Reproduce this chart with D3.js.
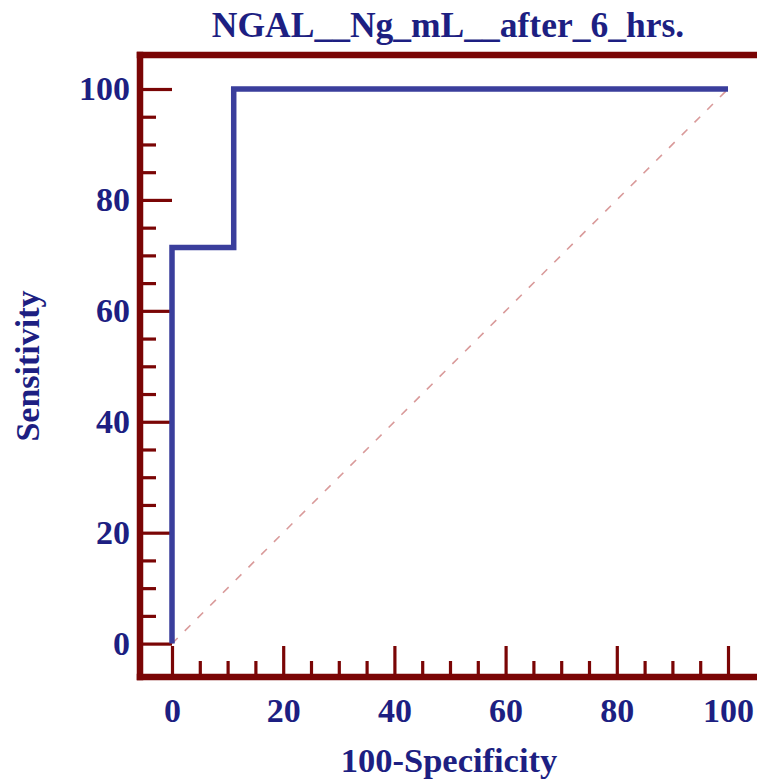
<!DOCTYPE html>
<html>
<head>
<meta charset="utf-8">
<script src="https://cdn.jsdelivr.net/npm/d3@7"></script>
<style>
  html, body { margin: 0; padding: 0; background: #fff; }
  svg { display: block; }
</style>
</head>
<body>
<svg id="chart" width="757" height="781"></svg>
<script>
// ROC curve data (100-Specificity vs Sensitivity)
const rocX = [0, 0, 11.1, 11.1, 100];
const rocY = [0, 71.4, 71.4, 100, 100];
const diagX = [0, 100];
const diagY = [0, 100];
const majorTicks = [0, 20, 40, 60, 80, 100];
const minorTicks = [5, 10, 15, 25, 30, 35, 45, 50, 55, 65, 70, 75, 85, 90, 95];

const titleText = 'NGAL__Ng_mL__after_6_hrs.';
const xLabel = '100-Specificity';
const yLabel = 'Sensitivity';

const axisColor = '#7a0505';
const textColor = '#1d1f82';
const curveColor = '#3a3e9c';
const diagColor = '#d99a9a';

const svg = d3.select('#chart');
const font = '"Liberation Serif", "Times New Roman", serif';

// frame edges
const frameLeft = 140, frameTop = 55, frameBottom = 677, frameRight = 770;

const x = d3.scaleLinear().domain([0, 100]).range([172, 728]);
const y = d3.scaleLinear().domain([0, 100]).range([643.6, 89]);

// title
svg.append('text')
    .attr('x', 448).attr('y', 37)
    .attr('text-anchor', 'middle')
    .attr('font-family', font)
    .attr('font-weight', 'bold')
    .attr('font-size', 35.5)
    .attr('fill', textColor)
    .text(titleText);

// minor ticks
const yMinor = svg.append('g')
    .attr('transform', `translate(${frameLeft},0)`)
    .call(d3.axisLeft(y).tickValues(minorTicks).tickSize(-16).tickFormat(''));
const xMinor = svg.append('g')
    .attr('transform', `translate(0,${frameBottom})`)
    .call(d3.axisBottom(x).tickValues(minorTicks).tickSize(-16).tickFormat(''));

// major ticks with labels
const yAxis = svg.append('g')
    .attr('transform', `translate(${frameLeft},0)`)
    .call(d3.axisLeft(y).tickValues(majorTicks).tickSize(-32).tickPadding(10));
const xAxis = svg.append('g')
    .attr('transform', `translate(0,${frameBottom})`)
    .call(d3.axisBottom(x).tickValues(majorTicks).tickSize(-31).tickPadding(21));

[yMinor, xMinor, yAxis, xAxis].forEach((g) => {
    g.select('.domain').remove();
    g.selectAll('.tick line').attr('stroke', axisColor).attr('stroke-width', 3.2);
    g.selectAll('.tick text')
        .attr('font-family', font)
        .attr('font-weight', 'bold')
        .attr('font-size', 34)
        .attr('fill', textColor);
});

// frame lines
const frame = [
    [[frameLeft, frameTop], [frameRight, frameTop]],
    [[frameLeft, frameTop], [frameLeft, frameBottom]],
    [[frameLeft, frameBottom], [frameRight, frameBottom]]
];
svg.append('g').selectAll('line').data(frame).enter().append('line')
    .attr('x1', (d) => d[0][0]).attr('y1', (d) => d[0][1])
    .attr('x2', (d) => d[1][0]).attr('y2', (d) => d[1][1])
    .attr('stroke', axisColor)
    .attr('stroke-width', 6.5)
    .attr('stroke-linecap', 'square');

// diagonal reference line
const line = d3.line().x((d) => x(d[0])).y((d) => y(d[1]));
svg.append('path')
    .datum(d3.zip(diagX, diagY))
    .attr('d', line)
    .attr('fill', 'none')
    .attr('stroke', diagColor)
    .attr('stroke-width', 1.6)
    .attr('stroke-dasharray', '8,10');

// ROC curve
svg.append('path')
    .datum(d3.zip(rocX, rocY))
    .attr('d', line)
    .attr('fill', 'none')
    .attr('stroke', curveColor)
    .attr('stroke-width', 5.5)
    .attr('stroke-linejoin', 'miter');

// axis titles
svg.append('text')
    .attr('x', 449).attr('y', 772)
    .attr('text-anchor', 'middle')
    .attr('font-family', font)
    .attr('font-weight', 'bold')
    .attr('font-size', 34.5)
    .attr('fill', textColor)
    .text(xLabel);

svg.append('text')
    .attr('transform', 'translate(39,366) rotate(-90)')
    .attr('text-anchor', 'middle')
    .attr('font-family', font)
    .attr('font-weight', 'bold')
    .attr('font-size', 34)
    .attr('fill', textColor)
    .text(yLabel);
</script>
</body>
</html>
